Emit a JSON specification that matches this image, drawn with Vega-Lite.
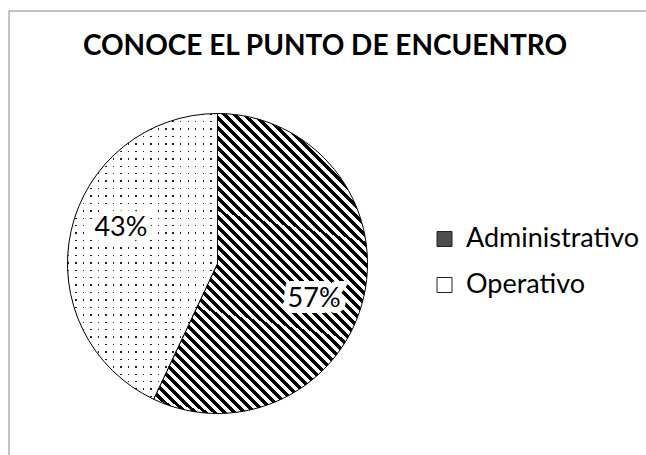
{
 "$schema": "https://vega.github.io/schema/vega-lite/v6.json",
 "width": 639,
 "height": 446,
 "autosize": {"type": "none"},
 "padding": {"left": 8.5, "top": 10.5, "right": -1.5, "bottom": -1.5},
 "background": "#ffffff",
 "config": {"view": {"stroke": "#878787", "strokeWidth": 1}, "font": "Lato"},
 "title": {"text": "CONOCE EL PUNTO DE ENCUENTRO", "font": "Lato", "fontSize": 28, "fontWeight": "bold", "color": "#000000", "anchor": "middle", "frame": "group", "baseline": "alphabetic", "offset": -44.5, "dx": -3, "dy": 28},
 "data": {"values": [
  {"Categoria": "Administrativo", "Porcentaje": 0.57},
  {"Categoria": "Operativo", "Porcentaje": 0.43}
 ]},
 "encoding": {
  "theta": {"field": "Porcentaje", "type": "quantitative", "stack": true},
  "order": {"field": "Porcentaje", "type": "quantitative", "sort": "descending"}
 },
 "layer": [
  {
   "mark": {"type": "arc", "outerRadius": 150},
   "encoding": {
    "x": {"value": 209},
    "y": {"value": 253},
    "fill": {
     "field": "Categoria", "type": "nominal",
     "scale": {"domain": ["Administrativo", "Operativo"], "range": ["#4d4d4d", "#ffffff"]},
     "condition": [
      {"test": "datum.Categoria === 'Administrativo'", "value": {"gradient": "linear", "x1": 0, "y1": 1, "x2": 0.778, "y2": -0.1, "stops": [
{"offset":0,"color":"#000"},{"offset":0.01,"color":"#000"},{"offset":0.01,"color":"#fff"},{"offset":0.02,"color":"#fff"},
{"offset":0.02,"color":"#000"},{"offset":0.03,"color":"#000"},{"offset":0.03,"color":"#fff"},{"offset":0.04,"color":"#fff"},
{"offset":0.04,"color":"#000"},{"offset":0.05,"color":"#000"},{"offset":0.05,"color":"#fff"},{"offset":0.06,"color":"#fff"},
{"offset":0.06,"color":"#000"},{"offset":0.07,"color":"#000"},{"offset":0.07,"color":"#fff"},{"offset":0.08,"color":"#fff"},
{"offset":0.08,"color":"#000"},{"offset":0.09,"color":"#000"},{"offset":0.09,"color":"#fff"},{"offset":0.10,"color":"#fff"},
{"offset":0.10,"color":"#000"},{"offset":0.11,"color":"#000"},{"offset":0.11,"color":"#fff"},{"offset":0.12,"color":"#fff"},
{"offset":0.12,"color":"#000"},{"offset":0.13,"color":"#000"},{"offset":0.13,"color":"#fff"},{"offset":0.14,"color":"#fff"},
{"offset":0.14,"color":"#000"},{"offset":0.15,"color":"#000"},{"offset":0.15,"color":"#fff"},{"offset":0.16,"color":"#fff"},
{"offset":0.16,"color":"#000"},{"offset":0.17,"color":"#000"},{"offset":0.17,"color":"#fff"},{"offset":0.18,"color":"#fff"},
{"offset":0.18,"color":"#000"},{"offset":0.19,"color":"#000"},{"offset":0.19,"color":"#fff"},{"offset":0.20,"color":"#fff"},
{"offset":0.20,"color":"#000"},{"offset":0.21,"color":"#000"},{"offset":0.21,"color":"#fff"},{"offset":0.22,"color":"#fff"},
{"offset":0.22,"color":"#000"},{"offset":0.23,"color":"#000"},{"offset":0.23,"color":"#fff"},{"offset":0.24,"color":"#fff"},
{"offset":0.24,"color":"#000"},{"offset":0.25,"color":"#000"},{"offset":0.25,"color":"#fff"},{"offset":0.26,"color":"#fff"},
{"offset":0.26,"color":"#000"},{"offset":0.27,"color":"#000"},{"offset":0.27,"color":"#fff"},{"offset":0.28,"color":"#fff"},
{"offset":0.28,"color":"#000"},{"offset":0.29,"color":"#000"},{"offset":0.29,"color":"#fff"},{"offset":0.30,"color":"#fff"},
{"offset":0.30,"color":"#000"},{"offset":0.31,"color":"#000"},{"offset":0.31,"color":"#fff"},{"offset":0.32,"color":"#fff"},
{"offset":0.32,"color":"#000"},{"offset":0.33,"color":"#000"},{"offset":0.33,"color":"#fff"},{"offset":0.34,"color":"#fff"},
{"offset":0.34,"color":"#000"},{"offset":0.35,"color":"#000"},{"offset":0.35,"color":"#fff"},{"offset":0.36,"color":"#fff"},
{"offset":0.36,"color":"#000"},{"offset":0.37,"color":"#000"},{"offset":0.37,"color":"#fff"},{"offset":0.38,"color":"#fff"},
{"offset":0.38,"color":"#000"},{"offset":0.39,"color":"#000"},{"offset":0.39,"color":"#fff"},{"offset":0.40,"color":"#fff"},
{"offset":0.40,"color":"#000"},{"offset":0.41,"color":"#000"},{"offset":0.41,"color":"#fff"},{"offset":0.42,"color":"#fff"},
{"offset":0.42,"color":"#000"},{"offset":0.43,"color":"#000"},{"offset":0.43,"color":"#fff"},{"offset":0.44,"color":"#fff"},
{"offset":0.44,"color":"#000"},{"offset":0.45,"color":"#000"},{"offset":0.45,"color":"#fff"},{"offset":0.46,"color":"#fff"},
{"offset":0.46,"color":"#000"},{"offset":0.47,"color":"#000"},{"offset":0.47,"color":"#fff"},{"offset":0.48,"color":"#fff"},
{"offset":0.48,"color":"#000"},{"offset":0.49,"color":"#000"},{"offset":0.49,"color":"#fff"},{"offset":0.50,"color":"#fff"},
{"offset":0.50,"color":"#000"},{"offset":0.51,"color":"#000"},{"offset":0.51,"color":"#fff"},{"offset":0.52,"color":"#fff"},
{"offset":0.52,"color":"#000"},{"offset":0.53,"color":"#000"},{"offset":0.53,"color":"#fff"},{"offset":0.54,"color":"#fff"},
{"offset":0.54,"color":"#000"},{"offset":0.55,"color":"#000"},{"offset":0.55,"color":"#fff"},{"offset":0.56,"color":"#fff"},
{"offset":0.56,"color":"#000"},{"offset":0.57,"color":"#000"},{"offset":0.57,"color":"#fff"},{"offset":0.58,"color":"#fff"},
{"offset":0.58,"color":"#000"},{"offset":0.59,"color":"#000"},{"offset":0.59,"color":"#fff"},{"offset":0.60,"color":"#fff"},
{"offset":0.60,"color":"#000"},{"offset":0.61,"color":"#000"},{"offset":0.61,"color":"#fff"},{"offset":0.62,"color":"#fff"},
{"offset":0.62,"color":"#000"},{"offset":0.63,"color":"#000"},{"offset":0.63,"color":"#fff"},{"offset":0.64,"color":"#fff"},
{"offset":0.64,"color":"#000"},{"offset":0.65,"color":"#000"},{"offset":0.65,"color":"#fff"},{"offset":0.66,"color":"#fff"},
{"offset":0.66,"color":"#000"},{"offset":0.67,"color":"#000"},{"offset":0.67,"color":"#fff"},{"offset":0.68,"color":"#fff"},
{"offset":0.68,"color":"#000"},{"offset":0.69,"color":"#000"},{"offset":0.69,"color":"#fff"},{"offset":0.70,"color":"#fff"},
{"offset":0.70,"color":"#000"},{"offset":0.71,"color":"#000"},{"offset":0.71,"color":"#fff"},{"offset":0.72,"color":"#fff"},
{"offset":0.72,"color":"#000"},{"offset":0.73,"color":"#000"},{"offset":0.73,"color":"#fff"},{"offset":0.74,"color":"#fff"},
{"offset":0.74,"color":"#000"},{"offset":0.75,"color":"#000"},{"offset":0.75,"color":"#fff"},{"offset":0.76,"color":"#fff"},
{"offset":0.76,"color":"#000"},{"offset":0.77,"color":"#000"},{"offset":0.77,"color":"#fff"},{"offset":0.78,"color":"#fff"},
{"offset":0.78,"color":"#000"},{"offset":0.79,"color":"#000"},{"offset":0.79,"color":"#fff"},{"offset":0.80,"color":"#fff"},
{"offset":0.80,"color":"#000"},{"offset":0.81,"color":"#000"},{"offset":0.81,"color":"#fff"},{"offset":0.82,"color":"#fff"},
{"offset":0.82,"color":"#000"},{"offset":0.83,"color":"#000"},{"offset":0.83,"color":"#fff"},{"offset":0.84,"color":"#fff"},
{"offset":0.84,"color":"#000"},{"offset":0.85,"color":"#000"},{"offset":0.85,"color":"#fff"},{"offset":0.86,"color":"#fff"},
{"offset":0.86,"color":"#000"},{"offset":0.87,"color":"#000"},{"offset":0.87,"color":"#fff"},{"offset":0.88,"color":"#fff"},
{"offset":0.88,"color":"#000"},{"offset":0.89,"color":"#000"},{"offset":0.89,"color":"#fff"},{"offset":0.90,"color":"#fff"},
{"offset":0.90,"color":"#000"},{"offset":0.91,"color":"#000"},{"offset":0.91,"color":"#fff"},{"offset":0.92,"color":"#fff"},
{"offset":0.92,"color":"#000"},{"offset":0.93,"color":"#000"},{"offset":0.93,"color":"#fff"},{"offset":0.94,"color":"#fff"},
{"offset":0.94,"color":"#000"},{"offset":0.95,"color":"#000"},{"offset":0.95,"color":"#fff"},{"offset":0.96,"color":"#fff"}
      ]}},
      {"test": "datum.Categoria === 'Operativo'", "value": {"gradient": "linear", "x1": 0, "y1": 0, "x2": 1, "y2": 0, "stops": [
{"offset":0,"color":"#222"},{"offset":0.01,"color":"#222"},{"offset":0.01,"color":"#fff"},{"offset":0.05,"color":"#fff"},
{"offset":0.05,"color":"#222"},{"offset":0.06,"color":"#222"},{"offset":0.06,"color":"#fff"},{"offset":0.10,"color":"#fff"},
{"offset":0.10,"color":"#222"},{"offset":0.11,"color":"#222"},{"offset":0.11,"color":"#fff"},{"offset":0.15,"color":"#fff"},
{"offset":0.15,"color":"#222"},{"offset":0.16,"color":"#222"},{"offset":0.16,"color":"#fff"},{"offset":0.20,"color":"#fff"},
{"offset":0.20,"color":"#222"},{"offset":0.21,"color":"#222"},{"offset":0.21,"color":"#fff"},{"offset":0.25,"color":"#fff"},
{"offset":0.25,"color":"#222"},{"offset":0.26,"color":"#222"},{"offset":0.26,"color":"#fff"},{"offset":0.30,"color":"#fff"},
{"offset":0.30,"color":"#222"},{"offset":0.31,"color":"#222"},{"offset":0.31,"color":"#fff"},{"offset":0.35,"color":"#fff"},
{"offset":0.35,"color":"#222"},{"offset":0.36,"color":"#222"},{"offset":0.36,"color":"#fff"},{"offset":0.40,"color":"#fff"},
{"offset":0.40,"color":"#222"},{"offset":0.41,"color":"#222"},{"offset":0.41,"color":"#fff"},{"offset":0.45,"color":"#fff"},
{"offset":0.45,"color":"#222"},{"offset":0.46,"color":"#222"},{"offset":0.46,"color":"#fff"},{"offset":0.50,"color":"#fff"},
{"offset":0.50,"color":"#222"},{"offset":0.51,"color":"#222"},{"offset":0.51,"color":"#fff"},{"offset":0.55,"color":"#fff"},
{"offset":0.55,"color":"#222"},{"offset":0.56,"color":"#222"},{"offset":0.56,"color":"#fff"},{"offset":0.60,"color":"#fff"},
{"offset":0.60,"color":"#222"},{"offset":0.61,"color":"#222"},{"offset":0.61,"color":"#fff"},{"offset":0.65,"color":"#fff"},
{"offset":0.65,"color":"#222"},{"offset":0.66,"color":"#222"},{"offset":0.66,"color":"#fff"},{"offset":0.70,"color":"#fff"},
{"offset":0.70,"color":"#222"},{"offset":0.71,"color":"#222"},{"offset":0.71,"color":"#fff"},{"offset":0.75,"color":"#fff"},
{"offset":0.75,"color":"#222"},{"offset":0.76,"color":"#222"},{"offset":0.76,"color":"#fff"},{"offset":0.80,"color":"#fff"},
{"offset":0.80,"color":"#222"},{"offset":0.81,"color":"#222"},{"offset":0.81,"color":"#fff"},{"offset":0.85,"color":"#fff"},
{"offset":0.85,"color":"#222"},{"offset":0.86,"color":"#222"},{"offset":0.86,"color":"#fff"},{"offset":0.90,"color":"#fff"},
{"offset":0.90,"color":"#222"},{"offset":0.91,"color":"#222"},{"offset":0.91,"color":"#fff"},{"offset":0.95,"color":"#fff"},
{"offset":0.95,"color":"#222"},{"offset":0.96,"color":"#222"},{"offset":0.96,"color":"#fff"},{"offset":1,"color":"#fff"}
      ]}}
     ],
     "legend": {
      "orient": "none", "legendX": 422.5, "legendY": 215, "title": null,
      "symbolType": "square", "symbolSize": 225, "symbolStrokeWidth": 1, "symbolStrokeColor": "#222222",
      "labelFont": "Lato", "labelFontSize": 27, "labelColor": "#000000", "labelOffset": 8, "labelLimit": 0, "rowPadding": 18, "padding": 0
     }
    }
   }
  },
  {
   "mark": {"type": "arc", "outerRadius": 150, "stroke": "#000000", "strokeWidth": 1},
   "encoding": {
    "x": {"value": 209},
    "y": {"value": 253},
    "fill": {
     "condition": {"test": "datum.Categoria === 'Operativo'", "value": {"gradient": "linear", "x1": 0, "y1": 0, "x2": 0, "y2": 1, "stops": [
{"offset":0,"color":"rgba(255,255,255,0)"},{"offset":0.0052,"color":"rgba(255,255,255,0)"},{"offset":0.0052,"color":"#fff"},{"offset":0.026,"color":"#fff"},
{"offset":0.026,"color":"rgba(255,255,255,0)"},{"offset":0.0312,"color":"rgba(255,255,255,0)"},{"offset":0.0312,"color":"#fff"},{"offset":0.052,"color":"#fff"},
{"offset":0.052,"color":"rgba(255,255,255,0)"},{"offset":0.0572,"color":"rgba(255,255,255,0)"},{"offset":0.0572,"color":"#fff"},{"offset":0.078,"color":"#fff"},
{"offset":0.078,"color":"rgba(255,255,255,0)"},{"offset":0.0832,"color":"rgba(255,255,255,0)"},{"offset":0.0832,"color":"#fff"},{"offset":0.104,"color":"#fff"},
{"offset":0.104,"color":"rgba(255,255,255,0)"},{"offset":0.1092,"color":"rgba(255,255,255,0)"},{"offset":0.1092,"color":"#fff"},{"offset":0.13,"color":"#fff"},
{"offset":0.13,"color":"rgba(255,255,255,0)"},{"offset":0.1352,"color":"rgba(255,255,255,0)"},{"offset":0.1352,"color":"#fff"},{"offset":0.156,"color":"#fff"},
{"offset":0.156,"color":"rgba(255,255,255,0)"},{"offset":0.1612,"color":"rgba(255,255,255,0)"},{"offset":0.1612,"color":"#fff"},{"offset":0.182,"color":"#fff"},
{"offset":0.182,"color":"rgba(255,255,255,0)"},{"offset":0.1872,"color":"rgba(255,255,255,0)"},{"offset":0.1872,"color":"#fff"},{"offset":0.208,"color":"#fff"},
{"offset":0.208,"color":"rgba(255,255,255,0)"},{"offset":0.2132,"color":"rgba(255,255,255,0)"},{"offset":0.2132,"color":"#fff"},{"offset":0.234,"color":"#fff"},
{"offset":0.234,"color":"rgba(255,255,255,0)"},{"offset":0.2392,"color":"rgba(255,255,255,0)"},{"offset":0.2392,"color":"#fff"},{"offset":0.26,"color":"#fff"},
{"offset":0.26,"color":"rgba(255,255,255,0)"},{"offset":0.2652,"color":"rgba(255,255,255,0)"},{"offset":0.2652,"color":"#fff"},{"offset":0.286,"color":"#fff"},
{"offset":0.286,"color":"rgba(255,255,255,0)"},{"offset":0.2912,"color":"rgba(255,255,255,0)"},{"offset":0.2912,"color":"#fff"},{"offset":0.312,"color":"#fff"},
{"offset":0.312,"color":"rgba(255,255,255,0)"},{"offset":0.3172,"color":"rgba(255,255,255,0)"},{"offset":0.3172,"color":"#fff"},{"offset":0.338,"color":"#fff"},
{"offset":0.338,"color":"rgba(255,255,255,0)"},{"offset":0.3432,"color":"rgba(255,255,255,0)"},{"offset":0.3432,"color":"#fff"},{"offset":0.364,"color":"#fff"},
{"offset":0.364,"color":"rgba(255,255,255,0)"},{"offset":0.3692,"color":"rgba(255,255,255,0)"},{"offset":0.3692,"color":"#fff"},{"offset":0.39,"color":"#fff"},
{"offset":0.39,"color":"rgba(255,255,255,0)"},{"offset":0.3952,"color":"rgba(255,255,255,0)"},{"offset":0.3952,"color":"#fff"},{"offset":0.416,"color":"#fff"},
{"offset":0.416,"color":"rgba(255,255,255,0)"},{"offset":0.4212,"color":"rgba(255,255,255,0)"},{"offset":0.4212,"color":"#fff"},{"offset":0.442,"color":"#fff"},
{"offset":0.442,"color":"rgba(255,255,255,0)"},{"offset":0.4472,"color":"rgba(255,255,255,0)"},{"offset":0.4472,"color":"#fff"},{"offset":0.468,"color":"#fff"},
{"offset":0.468,"color":"rgba(255,255,255,0)"},{"offset":0.4732,"color":"rgba(255,255,255,0)"},{"offset":0.4732,"color":"#fff"},{"offset":0.494,"color":"#fff"},
{"offset":0.494,"color":"rgba(255,255,255,0)"},{"offset":0.4992,"color":"rgba(255,255,255,0)"},{"offset":0.4992,"color":"#fff"},{"offset":0.52,"color":"#fff"},
{"offset":0.52,"color":"rgba(255,255,255,0)"},{"offset":0.5252,"color":"rgba(255,255,255,0)"},{"offset":0.5252,"color":"#fff"},{"offset":0.546,"color":"#fff"},
{"offset":0.546,"color":"rgba(255,255,255,0)"},{"offset":0.5512,"color":"rgba(255,255,255,0)"},{"offset":0.5512,"color":"#fff"},{"offset":0.572,"color":"#fff"},
{"offset":0.572,"color":"rgba(255,255,255,0)"},{"offset":0.5772,"color":"rgba(255,255,255,0)"},{"offset":0.5772,"color":"#fff"},{"offset":0.598,"color":"#fff"},
{"offset":0.598,"color":"rgba(255,255,255,0)"},{"offset":0.6032,"color":"rgba(255,255,255,0)"},{"offset":0.6032,"color":"#fff"},{"offset":0.624,"color":"#fff"},
{"offset":0.624,"color":"rgba(255,255,255,0)"},{"offset":0.6292,"color":"rgba(255,255,255,0)"},{"offset":0.6292,"color":"#fff"},{"offset":0.65,"color":"#fff"},
{"offset":0.65,"color":"rgba(255,255,255,0)"},{"offset":0.6552,"color":"rgba(255,255,255,0)"},{"offset":0.6552,"color":"#fff"},{"offset":0.676,"color":"#fff"},
{"offset":0.676,"color":"rgba(255,255,255,0)"},{"offset":0.6812,"color":"rgba(255,255,255,0)"},{"offset":0.6812,"color":"#fff"},{"offset":0.702,"color":"#fff"},
{"offset":0.702,"color":"rgba(255,255,255,0)"},{"offset":0.7072,"color":"rgba(255,255,255,0)"},{"offset":0.7072,"color":"#fff"},{"offset":0.728,"color":"#fff"},
{"offset":0.728,"color":"rgba(255,255,255,0)"},{"offset":0.7332,"color":"rgba(255,255,255,0)"},{"offset":0.7332,"color":"#fff"},{"offset":0.754,"color":"#fff"},
{"offset":0.754,"color":"rgba(255,255,255,0)"},{"offset":0.7592,"color":"rgba(255,255,255,0)"},{"offset":0.7592,"color":"#fff"},{"offset":0.78,"color":"#fff"},
{"offset":0.78,"color":"rgba(255,255,255,0)"},{"offset":0.7852,"color":"rgba(255,255,255,0)"},{"offset":0.7852,"color":"#fff"},{"offset":0.806,"color":"#fff"},
{"offset":0.806,"color":"rgba(255,255,255,0)"},{"offset":0.8112,"color":"rgba(255,255,255,0)"},{"offset":0.8112,"color":"#fff"},{"offset":0.832,"color":"#fff"},
{"offset":0.832,"color":"rgba(255,255,255,0)"},{"offset":0.8372,"color":"rgba(255,255,255,0)"},{"offset":0.8372,"color":"#fff"},{"offset":0.858,"color":"#fff"},
{"offset":0.858,"color":"rgba(255,255,255,0)"},{"offset":0.8632,"color":"rgba(255,255,255,0)"},{"offset":0.8632,"color":"#fff"},{"offset":0.884,"color":"#fff"},
{"offset":0.884,"color":"rgba(255,255,255,0)"},{"offset":0.8892,"color":"rgba(255,255,255,0)"},{"offset":0.8892,"color":"#fff"},{"offset":0.91,"color":"#fff"},
{"offset":0.91,"color":"rgba(255,255,255,0)"},{"offset":0.9152,"color":"rgba(255,255,255,0)"},{"offset":0.9152,"color":"#fff"},{"offset":0.936,"color":"#fff"},
{"offset":0.936,"color":"rgba(255,255,255,0)"},{"offset":0.9412,"color":"rgba(255,255,255,0)"},{"offset":0.9412,"color":"#fff"},{"offset":0.962,"color":"#fff"},
{"offset":0.962,"color":"rgba(255,255,255,0)"},{"offset":0.9672,"color":"rgba(255,255,255,0)"},{"offset":0.9672,"color":"#fff"},{"offset":0.988,"color":"#fff"},
{"offset":0.988,"color":"rgba(255,255,255,0)"},{"offset":0.9932,"color":"rgba(255,255,255,0)"},{"offset":0.9932,"color":"#fff"},{"offset":1,"color":"#fff"}
     ]}},
     "value": "transparent"
    }
   }
  },
  {
   "mark": {"type": "text", "radius": 103, "x": 209, "y": 253, "font": "Lato", "fontSize": 27, "baseline": "middle", "align": "center", "fill": "#ffffff", "stroke": "#ffffff", "strokeWidth": 12, "strokeJoin": "miter"},
   "encoding": {
    "theta": {"field": "Porcentaje", "type": "quantitative", "stack": true, "scale": {"range": [0.135, 6.418]}},
    "text": {"field": "Porcentaje", "type": "quantitative", "format": ".0%"}
   }
  },
  {
   "mark": {"type": "text", "radius": 103, "x": 209, "y": 253, "font": "Lato", "fontSize": 27, "baseline": "middle", "align": "center", "fill": "#000000"},
   "encoding": {
    "theta": {"field": "Porcentaje", "type": "quantitative", "stack": true, "scale": {"range": [0.135, 6.418]}},
    "text": {"field": "Porcentaje", "type": "quantitative", "format": ".0%"}
   }
  }
 ],
 "resolve": {"scale": {"theta": "independent"}}
}
